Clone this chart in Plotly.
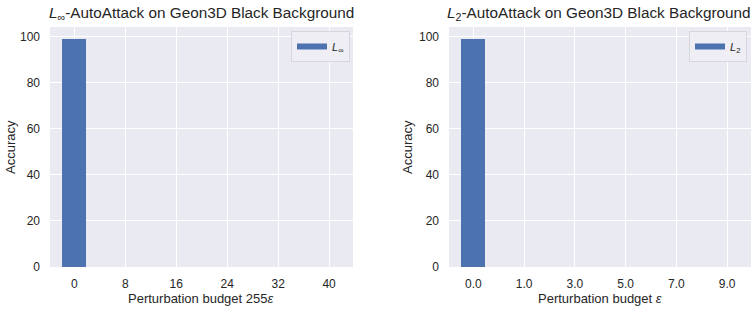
import plotly.graph_objects as go

# Data
linf_labels = ["0", "8", "16", "24", "32", "40"]
linf_acc = [99.0, 0, 0, 0, 0, 0]
l2_labels = ["0.0", "1.0", "3.0", "5.0", "7.0", "9.0"]
l2_acc = [99.0, 0, 0, 0, 0, 0]

BLUE = "#4c72b0"
BG = "#eaeaf2"
TXT = "#262626"
FONT = "Liberation Sans, Arial, sans-serif"
W, H = 756, 309

fig = go.Figure()
fig.add_trace(go.Bar(x=list(range(len(linf_labels))), y=linf_acc, width=0.47,
                     marker=dict(color=BLUE, line=dict(width=0)),
                     xaxis="x", yaxis="y", showlegend=False))
fig.add_trace(go.Bar(x=list(range(len(l2_labels))), y=l2_acc, width=0.47,
                     marker=dict(color=BLUE, line=dict(width=0)),
                     xaxis="x2", yaxis="y2", showlegend=False))
# legend entries
fig.add_trace(go.Scatter(x=[None], y=[None], mode="lines", line=dict(color=BLUE, width=6),
                         name="<i>L</i><sub>∞</sub>", xaxis="x", yaxis="y", legend="legend"))
fig.add_trace(go.Scatter(x=[None], y=[None], mode="lines", line=dict(color=BLUE, width=6),
                         name="<i>L</i><sub>2</sub>", xaxis="x2", yaxis="y2", legend="legend2"))

ydom = [42 / H, 282 / H]
common_x = dict(range=[-0.48, 5.47], showgrid=True, gridcolor="white", gridwidth=1.2,
                zeroline=False, showline=False, ticks="", ticklabelstandoff=8,
                automargin=False,
                tickfont=dict(size=12, color=TXT, family=FONT), fixedrange=True)
common_y = dict(range=[0, 104.3], showgrid=True, gridcolor="white", gridwidth=1.2,
                zeroline=False, showline=False, ticks="", ticklabelstandoff=9,
                automargin=False, tickvals=[0, 20, 40, 60, 80, 100],
                tickfont=dict(size=12, color=TXT, family=FONT), fixedrange=True)


def ann(text, x, y, size, angle=0):
    return dict(text=text, x=x / W, y=1 - y / H, xref="paper", yref="paper",
                xanchor="center", yanchor="middle", showarrow=False, textangle=angle,
                font=dict(size=size, color=TXT, family=FONT))


leg = dict(yanchor="top", xanchor="right", bgcolor="#eeeef4", bordercolor="#d6d6dc",
           borderwidth=1, font=dict(size=11, color=TXT, family=FONT), itemwidth=30,
           tracegroupgap=0)

fig.update_layout(
    width=W, height=H,
    margin=dict(l=0, r=0, t=0, b=0, autoexpand=False),
    paper_bgcolor="white", plot_bgcolor=BG,
    bargap=0,
    font=dict(family=FONT, color=TXT, size=12),
    xaxis=dict(domain=[50 / W, 353 / W], anchor="y",
               tickvals=list(range(len(linf_labels))), ticktext=linf_labels, **common_x),
    yaxis=dict(domain=ydom, anchor="x", **common_y),
    xaxis2=dict(domain=[449 / W, 751 / W], anchor="y2",
                tickvals=list(range(len(l2_labels))), ticktext=l2_labels, **common_x),
    yaxis2=dict(domain=ydom, anchor="x2", **common_y),
    legend=dict(x=350 / W, y=1 - 31 / H, **leg),
    legend2=dict(x=747 / W, y=1 - 31 / H, **leg),
    annotations=[
        ann("<i>L</i><sub>∞</sub>-AutoAttack on Geon3D Black Background", 201, 13, 15.3),
        ann("<i>L</i><sub>2</sub>-AutoAttack on Geon3D Black Background", 599, 13, 15.3),
        ann("Perturbation budget 255<i>ε</i>", 201, 298, 13),
        ann("Perturbation budget <i>ε</i>", 600, 298, 13),
        ann("Accuracy", 10, 147, 13, -90),
        ann("Accuracy", 407, 147, 13, -90),
    ],
)

fig.write_html("out.html")
